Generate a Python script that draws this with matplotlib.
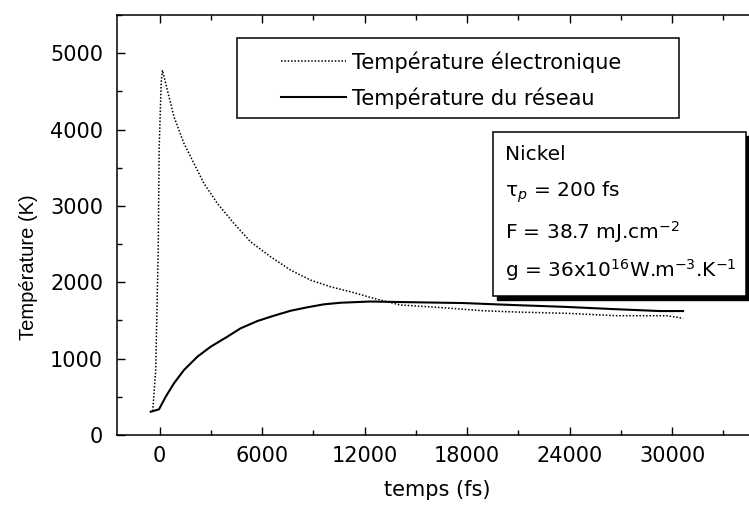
"""
Two-temperature model for nickel: electron and lattice temperature vs time.
"""

import matplotlib as mpl
import matplotlib.pyplot as plt
import matplotlib.ticker as mticker
from matplotlib.patches import Rectangle

mpl.rcParams["font.family"] = ["DejaVu Sans"]
mpl.rcParams["mathtext.fontset"] = "dejavusans"

# electron temperature (dotted)
t_elec = [-410, -234, -88, -29, 88, 158, 836, 1421, 2006, 2591, 3374, 4345,
          5322, 6491, 7661, 8830, 10000, 11170, 12532, 14093, 16024, 18948,
          20936, 23860, 26784, 29708, 30644]
T_elec = [314, 851, 2422, 3770, 4621, 4778, 4167, 3818, 3557, 3295, 3033, 2771,
          2530, 2334, 2160, 2029, 1941, 1876, 1789, 1702, 1676, 1627,
          1610, 1593, 1562, 1562, 1528]

# lattice temperature (solid)
t_latt = [-526, -41, 351, 836, 1421, 2205, 2982, 3959, 4737, 5714, 6684, 7661,
          8637, 9608, 10585, 12339, 14094, 17778, 20702, 23626, 26550, 29298,
          30644]
T_latt = [305, 336, 501, 677, 851, 1025, 1156, 1287, 1397, 1492, 1562, 1627,
          1672, 1711, 1732, 1748, 1741, 1728, 1702, 1679, 1649, 1623,
          1623]

legend_labels = ["Température électronique", "Température du réseau"]
info_lines = [
    "Nickel",
    r"τ$_{p}$ = 200 fs",
    r"F = 38.7 mJ.cm$^{-2}$",
    r"g = 36x10$^{16}$W.m$^{-3}$.K$^{-1}$",
]

W, H = 749, 508


def fx(px):
    return px / W


def fy(py):
    return 1 - py / H


fig = plt.figure(figsize=(W / 100, H / 100), dpi=100)
ax = fig.add_axes([fx(117), fy(435), fx(757.5) - fx(117), fy(15) - fy(435)])

l_elec, = ax.plot(t_elec, T_elec, color="black", linestyle=(0, (1, 1.2)),
                  linewidth=1.1)
l_latt, = ax.plot(t_latt, T_latt, color="black", linestyle="-", linewidth=1.5)

ax.set_xlim(-2500, 35000)
ax.set_ylim(0, 5500)
ax.xaxis.set_major_locator(mticker.MultipleLocator(6000))
ax.xaxis.set_minor_locator(mticker.MultipleLocator(3000))
ax.yaxis.set_major_locator(mticker.MultipleLocator(1000))
ax.yaxis.set_minor_locator(mticker.MultipleLocator(500))
ax.tick_params(which="both", direction="in", top=True, right=True,
               width=1.0, labelsize=15)
ax.tick_params(which="major", length=6)
ax.tick_params(which="minor", length=3.5)
ax.tick_params(axis="y", pad=10)
ax.tick_params(axis="x", pad=8)
for sp in ax.spines.values():
    sp.set_linewidth(1.1)

ax.set_xlabel("temps (fs)", fontsize=15, labelpad=10)
ax.set_ylabel("Température (K)", fontsize=14.5, family="Liberation Sans")
ax.yaxis.set_label_coords(-0.124, 0.40)

# legend with its own box
fig.patches.append(Rectangle((fx(237), fy(118)), fx(679) - fx(237),
                             fy(38) - fy(118), transform=fig.transFigure,
                             facecolor="white", edgecolor="black",
                             linewidth=1.1, zorder=2))
leg = fig.legend([l_elec, l_latt], legend_labels, loc="center",
                 bbox_to_anchor=(fx(451), fy(80)), frameon=False,
                 fontsize=15, handlelength=3.1, handletextpad=0.3,
                 labelspacing=0.7)
leg.set_zorder(4)

# info box with drop shadow
fig.patches.append(Rectangle((fx(497), fy(300)), fx(750) - fx(497),
                             fy(136) - fy(300), transform=fig.transFigure,
                             facecolor="black", edgecolor="black", zorder=2))
fig.patches.append(Rectangle((fx(493), fy(296)), fx(746) - fx(493),
                             fy(132) - fy(296), transform=fig.transFigure,
                             facecolor="white", edgecolor="black",
                             linewidth=1.1, zorder=2.5))
for line, ypx in zip(info_lines, [155, 192, 232, 270]):
    fig.text(fx(505), fy(ypx), line, fontsize=14.5, va="center", ha="left",
             zorder=3)

fig.savefig("out.png", dpi=100)
